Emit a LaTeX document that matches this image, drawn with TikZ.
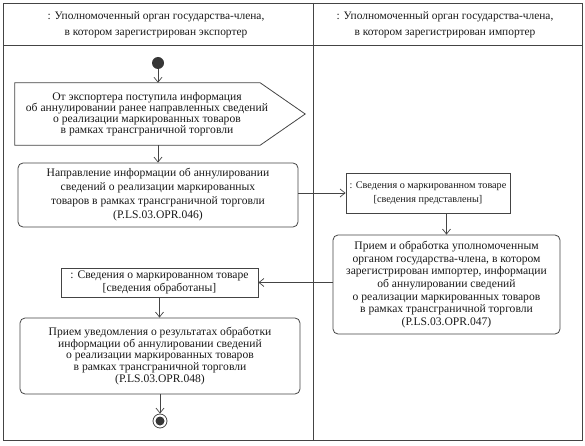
\documentclass[tikz,border=0pt]{standalone}
\usepackage{fontspec}
\setmainfont{Liberation Serif}
\usetikzlibrary{arrows.meta}
\definecolor{ln}{HTML}{444444}
\begin{document}
\begin{tikzpicture}[x=1pt,y=-1pt,
  every node/.style={font=\fontsize{11.6}{13}\selectfont, align=center, text=black!90},
  frame/.style={draw=ln, line width=0.8pt},
  act/.style={draw=ln, line width=0.8pt, rounded corners=5pt, inner sep=0pt},
  obj/.style={draw=ln, line width=0.8pt, inner sep=0pt},
  ghost/.style={inner sep=0pt},
  hdr/.style={ghost, font=\fontsize{11.4}{15.5}\selectfont},
  arr/.style={draw=ln, line width=0.7pt, -{Straight Barb[length=5pt,width=8pt]}}]
\useasboundingbox (0,0) rectangle (585,446);
% frame
\draw[frame] (3,3) rectangle (582,440);
\draw[frame] (3,45) -- (582,45);
\draw[frame] (313,3) -- (313,440);
\node[hdr] (h1) at (156,25) {: Уполномоченный орган государства-члена,\\в котором зарегистрирован экспортер};
\node[hdr] (h2) at (445,25) {: Уполномоченный орган государства-члена,\\в котором зарегистрирован импортер};
% start
\node[circle, fill=ln!80!black, minimum size=12pt, inner sep=0pt] (start) at (158,63) {};
% send signal
\node[ghost, font=\fontsize{11.6}{11}\selectfont, minimum width=264pt, minimum height=62pt] (send) at (147,114) {От экспортера поступила информация\\об аннулировании ранее направленных сведений\\о реализации маркированных товаров\\в рамках трансграничной торговли};
\draw[frame, line join=miter] (send.north west) -- ([xshift=-19pt]send.north east) -- ([xshift=26pt]send.east) -- ([xshift=-19pt]send.south east) -- (send.south west) -- cycle;
% box1
\node[act, font=\fontsize{11.6}{14}\selectfont, minimum width=280pt, minimum height=64pt] (b1) at (158,195) {Направление информации об аннулировании\\сведений о реализации маркированных\\товаров в рамках трансграничной торговли\\(P.LS.03.OPR.046)};
% box2
\node[obj, font=\fontsize{10.2}{14}\selectfont, minimum width=164pt, minimum height=40pt] (b2) at (428,193) {: Сведения о маркированном товаре\\{[}сведения представлены{]}};
% box3
\node[act, font=\fontsize{11.6}{12.7}\selectfont, minimum width=227pt, minimum height=99pt] (b3) at (446.5,284.5) {Прием и обработка уполномоченным\\органом государства-члена, в котором\\зарегистрирован импортер, информации\\об аннулировании сведений\\о реализации маркированных товаров\\в рамках трансграничной торговли\\(P.LS.03.OPR.047)};
% box4
\node[obj, font=\fontsize{11.6}{13}\selectfont, minimum width=197pt, minimum height=29pt] (b4) at (159.5,282.5) {: Сведения о маркированном товаре\\{[}сведения обработаны{]}};
% box5
\node[act, font=\fontsize{11.6}{11.8}\selectfont, minimum width=280pt, minimum height=76pt] (b5) at (160,356) {Прием уведомления о результатах обработки\\информации об аннулировании сведений\\о реализации маркированных товаров\\в рамках трансграничной торговли\\(P.LS.03.OPR.048)};
% end
\node[circle, draw=ln, line width=0.8pt, minimum size=14pt, inner sep=0pt] (end) at (160,421) {};
\node[circle, fill=ln!80!black, minimum size=9pt, inner sep=0pt] (endin) at (end) {};
% connectors
\draw[arr] (start) -- (start |- send.north);
\draw[arr] (start |- send.south) -- (b1.north -| start);
\draw[arr] (b1.east |- b2.west) -- (b2.west);
\draw[arr] (b2.south -| b3.north) -- (b3.north);
\draw[arr] (b3.west |- b4.east) -- (b4.east);
\draw[arr] (b4.south) -- (b4.south |- b5.north);
\draw[arr] (b5.south -| end) -- (end);
\end{tikzpicture}
\end{document}
